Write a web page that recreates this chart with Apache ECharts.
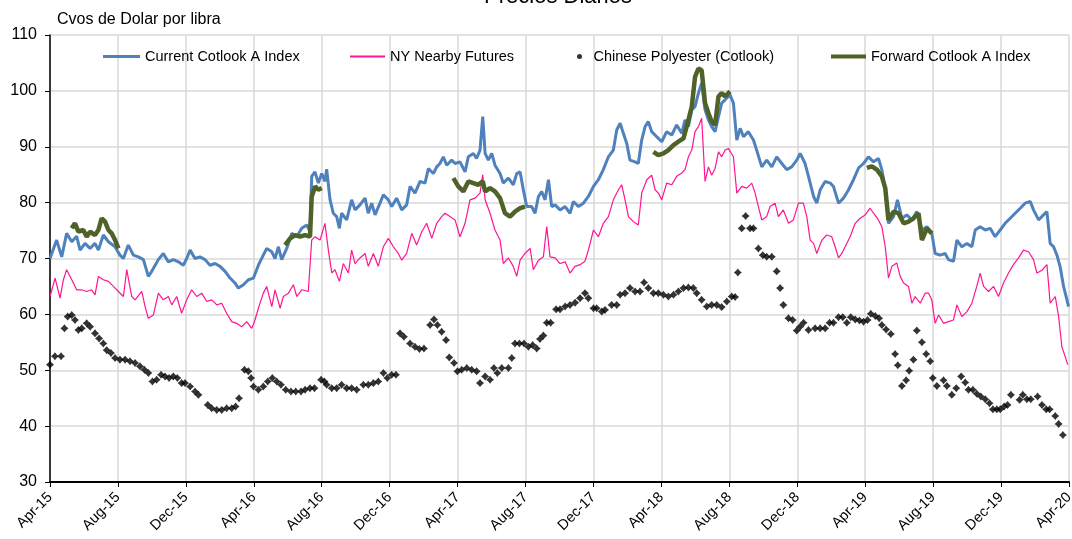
<!DOCTYPE html>
<html><head><meta charset="utf-8">
<script src="https://cdn.jsdelivr.net/npm/echarts@6/dist/echarts.min.js"></script>
<style>html,body{margin:0;padding:0;background:#fff}#c{width:1072px;height:539px}</style>
</head><body><div id="c"></div>
<script>
// x = months since Apr-15
const monthLabels = ['Apr-15','Aug-15','Dec-15','Apr-16','Aug-16','Dec-16','Apr-17','Aug-17','Dec-17','Apr-18','Aug-18','Dec-18','Apr-19','Aug-19','Dec-19','Apr-20'];
const seriesNames = ['Current Cotlook A Index','NY Nearby Futures','Chinese Polyester (Cotlook)','Forward Cotlook A Index'];

const currentIndex = [[0.0,70.0],[0.1,70.3],[0.39,73.3],[0.69,70.3],[0.98,74.5],[1.28,73],[1.57,74],[1.77,71.5],[2.06,72.7],[2.36,71.8],[2.65,72.7],[2.85,71.5],[3.14,74.2],[3.44,73],[3.83,72.1],[4.12,70.6],[4.32,70],[4.61,72.4],[4.91,70.6],[5.2,70.3],[5.5,69.8],[5.79,66.8],[5.99,67.7],[6.38,69.8],[6.67,70.9],[6.97,69.4],[7.26,69.8],[7.56,69.4],[7.85,68.8],[8.05,70],[8.25,71.5],[8.54,70],[8.83,70.3],[9.13,69.8],[9.42,68.8],[9.72,69.1],[10.01,68.6],[10.31,67.7],[10.6,66.5],[10.9,65.6],[11.09,64.7],[11.39,65.3],[11.68,66.2],[11.98,66.5],[12.27,68.8],[12.56,70.6],[12.76,71.8],[13.06,71.2],[13.25,70],[13.45,72.1],[13.64,69.8],[13.94,71.8],[14.23,74.5],[14.53,73.9],[14.82,75.4],[15.12,76],[15.31,74.8],[15.41,84.7],[15.6,85.5],[15.8,83.5],[16.0,85.2],[16.19,83.8],[16.29,86],[16.49,80.5],[16.68,78.1],[16.88,77.5],[17.04,75.4],[17.17,78.1],[17.47,76.9],[17.76,80.5],[17.96,78.7],[18.25,79.6],[18.55,80.8],[18.74,78.1],[18.94,79.9],[19.14,77.8],[19.43,79.9],[19.63,81.4],[19.92,80.5],[20.12,79.3],[20.41,80.8],[20.71,78.7],[21.0,79.6],[21.2,82.9],[21.49,81.7],[21.79,83.8],[22.08,83.5],[22.28,86.1],[22.57,85.2],[22.77,86.4],[22.96,87],[23.16,88.2],[23.36,86.7],[23.65,87.6],[23.85,87],[24.14,87.3],[24.44,85.5],[24.63,88.2],[24.93,88.8],[25.12,87.9],[25.32,89.4],[25.48,95.4],[25.62,88.8],[25.81,87.6],[26.01,88.8],[26.2,86.7],[26.5,85.2],[26.69,83.5],[26.99,84.4],[27.28,83.2],[27.48,85.2],[27.68,85.5],[27.87,82.3],[28.07,79.3],[28.36,79.3],[28.56,78.1],[28.76,81.1],[28.95,82],[29.15,80.5],[29.35,84.1],[29.54,79.3],[29.74,79.6],[30.03,78.7],[30.33,79.3],[30.62,78.1],[30.82,80.2],[31.11,79.3],[31.41,79.9],[31.7,81.1],[32.0,82.9],[32.29,84.1],[32.58,85.9],[32.88,88.2],[33.17,89.4],[33.37,93],[33.57,94.2],[33.76,92.4],[33.96,90.6],[34.15,87.6],[34.45,87.3],[34.64,87],[34.84,91.2],[35.04,93.6],[35.23,94.5],[35.43,92.7],[35.72,91.8],[36.02,90.9],[36.31,92.7],[36.61,92.1],[36.9,93.9],[37.2,92.4],[37.39,94.8],[37.59,93.6],[37.79,96.6],[37.98,97.2],[38.18,99.6],[38.37,101.4],[38.57,96.6],[38.77,94.8],[38.96,93.6],[39.16,92.7],[39.36,95.4],[39.55,97.8],[39.75,98.4],[40.04,99.3],[40.24,97.8],[40.44,91.2],[40.64,93.3],[40.83,91.8],[41.12,92.7],[41.42,91.2],[41.61,89.4],[41.91,86.4],[42.2,87.6],[42.5,86.4],[42.79,88.2],[43.09,87],[43.38,85.9],[43.67,86.4],[43.97,87.6],[44.17,88.8],[44.46,87],[44.66,84.7],[44.96,81.1],[45.15,79.9],[45.35,82.3],[45.64,83.8],[45.94,83.5],[46.13,82.9],[46.43,79.9],[46.72,80.8],[47.02,82.3],[47.31,84.1],[47.61,86.2],[47.9,87],[48.19,88.2],[48.49,87.3],[48.78,87.9],[48.98,85.9],[49.18,82.3],[49.37,76.3],[49.67,77.5],[49.9,80.5],[50.16,77.2],[50.45,77.8],[50.75,76.9],[51.04,78.4],[51.34,75.1],[51.63,75.7],[51.92,74.5],[52.12,70.9],[52.42,70.6],[52.71,70.9],[52.9,69.8],[53.2,69.5],[53.4,73.3],[53.69,72.1],[53.99,72.7],[54.28,72.1],[54.48,75.1],[54.77,75.7],[55.07,75.1],[55.36,75.4],[55.65,73.9],[55.95,75.1],[56.24,76.3],[56.54,77.2],[56.83,78.1],[57.13,79],[57.42,79.9],[57.72,80.2],[57.91,78.7],[58.21,76.9],[58.5,77.8],[58.7,78.4],[58.89,72.7],[59.09,72.1],[59.29,70.6],[59.48,68.5],[59.68,65],[59.88,62.6],[59.97,61.4]];

const nyFutures = [[0.0,63.2],[0.3,66.5],[0.59,62.9],[0.79,66.2],[0.98,68],[1.28,66.2],[1.57,64.4],[1.86,64.4],[2.16,64.1],[2.45,64.4],[2.65,63.5],[2.85,66.8],[3.14,66.2],[3.44,65.9],[3.73,65],[4.03,64.1],[4.32,63.2],[4.52,68],[4.81,63.2],[5.01,62.6],[5.4,64.1],[5.6,61.4],[5.79,59.3],[6.09,59.9],[6.38,63.8],[6.67,62.6],[6.97,63.2],[7.17,61.7],[7.46,63.2],[7.75,60.2],[8.05,62.6],[8.34,64.4],[8.64,63.2],[8.93,63.8],[9.23,62.3],[9.52,62.6],[9.82,61.7],[10.11,62],[10.4,60.2],[10.7,58.7],[10.99,58.4],[11.29,57.8],[11.58,58.7],[11.88,57.5],[12.07,59],[12.27,61.1],[12.56,63.8],[12.76,65],[13.06,61.4],[13.25,64.4],[13.55,61.1],[13.74,63.2],[14.04,63.8],[14.33,65.3],[14.53,63.2],[14.82,64.4],[15.21,64.1],[15.41,73.3],[15.6,73.9],[15.9,73.3],[16.19,76.3],[16.39,71.5],[16.59,67.4],[16.78,68],[17.04,65.9],[17.27,69.1],[17.57,67.4],[17.76,71.5],[17.96,69.1],[18.25,70.1],[18.55,70.9],[18.74,68.6],[19.04,70.9],[19.33,68.6],[19.63,72.1],[19.92,73.6],[20.22,72.1],[20.51,70.9],[20.71,69.7],[21.0,70.9],[21.3,74.5],[21.59,72.4],[21.89,74.8],[22.18,76.3],[22.48,73.6],[22.77,76.3],[23.06,77.5],[23.26,78.1],[23.55,77.5],[23.85,76.9],[24.14,73.9],[24.44,76.3],[24.73,80.5],[25.03,80.8],[25.32,81.7],[25.48,85],[25.62,80.5],[25.91,78.1],[26.2,75.1],[26.5,73.3],[26.69,69.1],[26.99,70.1],[27.28,68.6],[27.48,66.8],[27.68,69.7],[27.97,70.9],[28.27,71.8],[28.46,68],[28.76,69.7],[29.05,70.3],[29.25,75.7],[29.44,70.3],[29.74,70.1],[30.03,69.1],[30.33,69.4],[30.62,67.4],[30.91,68.6],[31.21,68.9],[31.5,69.5],[31.7,71.5],[32.0,75.1],[32.29,73.9],[32.58,76.3],[32.88,77.5],[33.17,80.5],[33.47,82.3],[33.66,83.2],[33.86,80.5],[34.06,77.5],[34.35,76.6],[34.64,76],[34.84,81.7],[35.14,84.1],[35.43,84.9],[35.63,82.3],[35.82,81.7],[36.02,80.5],[36.31,83.5],[36.61,83.2],[36.9,84.7],[37.2,85.3],[37.39,85.9],[37.59,88.2],[37.79,89.4],[37.98,92.7],[38.18,93.6],[38.37,95.1],[38.57,83.8],[38.77,86.4],[38.96,84.9],[39.16,86.1],[39.36,89.1],[39.55,88.2],[39.75,89.4],[39.94,89.7],[40.24,88.2],[40.44,81.7],[40.73,82.9],[41.02,82.6],[41.32,83.5],[41.52,81.7],[41.71,79.3],[41.91,76.9],[42.2,77.5],[42.4,79.3],[42.69,79.9],[42.89,77.5],[43.18,78.7],[43.48,76.3],[43.77,76.9],[44.07,79.9],[44.36,79.9],[44.56,77.5],[44.76,73.3],[44.96,72.7],[45.15,70.9],[45.45,73.3],[45.74,74.2],[46.03,73.9],[46.23,72.1],[46.43,70.1],[46.62,70.9],[46.82,72.1],[47.11,73.9],[47.41,76.3],[47.7,77.2],[48.0,77.8],[48.29,79],[48.49,78.1],[48.72,77.2],[48.98,75.7],[49.18,72.1],[49.37,66.5],[49.57,68.6],[49.86,69.2],[50.06,66.8],[50.26,65.6],[50.55,65],[50.75,62],[50.94,63.2],[51.24,62],[51.53,63.8],[51.73,63.8],[51.92,62.6],[52.12,58.4],[52.32,59.9],[52.61,58.4],[52.91,58.7],[53.2,59],[53.4,61.7],[53.69,59.6],[53.99,60.5],[54.28,62],[54.57,65],[54.77,67.4],[54.97,65],[55.26,64.1],[55.56,65],[55.85,63.2],[56.14,65.6],[56.44,67.4],[56.73,68.9],[57.03,70.1],[57.32,71.5],[57.62,71.2],[57.91,69.8],[58.11,67.4],[58.41,67.9],[58.7,68.9],[58.89,62],[59.19,63.2],[59.39,59.6],[59.58,54.2],[59.78,52.4],[59.92,51]];

const chinesePolyester = [[0.0,51],[0.29,52.5],[0.65,52.5],[0.85,57.5],[1.04,59.6],[1.28,59.9],[1.47,59],[1.67,57.2],[1.87,57.5],[2.16,58.4],[2.36,57.8],[2.65,56.6],[2.89,55.7],[3.14,54.8],[3.34,53.6],[3.59,53.1],[3.83,52.2],[4.12,51.9],[4.42,51.9],[4.71,51.6],[5.01,51.3],[5.3,50.7],[5.56,50.1],[5.79,49.5],[6.03,48],[6.28,48.3],[6.54,49.2],[6.77,48.9],[7.01,48.6],[7.26,48.9],[7.5,48.6],[7.75,47.7],[7.95,47.7],[8.25,47.1],[8.54,46.2],[8.74,45.6],[9.29,43.8],[9.52,43.2],[9.82,42.9],[10.11,42.9],[10.4,43.2],[10.7,43.2],[10.93,43.5],[11.13,45],[11.45,50.1],[11.68,49.8],[11.84,48.6],[11.98,47.1],[12.27,46.5],[12.56,47.1],[12.82,48],[13.09,48.6],[13.35,48],[13.6,47.4],[13.88,46.5],[14.19,46.2],[14.47,46.2],[14.78,46.2],[15.02,46.5],[15.31,46.8],[15.57,46.8],[15.96,48.3],[16.16,48],[16.29,47.4],[16.59,46.8],[16.88,46.8],[17.17,47.4],[17.47,46.8],[17.76,46.8],[18.06,46.5],[18.45,47.4],[18.74,47.4],[19.04,47.7],[19.33,48],[19.63,49.5],[19.86,48.6],[20.12,49.2],[20.37,49.2],[20.61,56.6],[20.84,56],[21.2,54.8],[21.49,54.2],[21.75,53.8],[22.02,53.9],[22.38,58.1],[22.61,59.1],[22.81,58.1],[23.06,56.9],[23.32,55.4],[23.51,52.3],[23.79,51.3],[23.99,49.8],[24.24,50.1],[24.54,50.4],[24.83,50.1],[25.12,49.8],[25.32,47.7],[25.62,48.9],[25.91,48.3],[26.14,50.4],[26.34,49.5],[26.6,50.4],[26.99,50.4],[27.19,52.2],[27.38,54.8],[27.64,54.8],[27.91,54.8],[28.17,54.2],[28.42,54.5],[28.66,53.9],[28.85,55.6],[29.05,56.2],[29.25,58.5],[29.48,58.5],[29.8,60.9],[30.03,60.9],[30.33,61.4],[30.62,61.7],[30.92,62.1],[31.21,62.9],[31.5,63.8],[31.7,62.9],[32.0,61.1],[32.19,61.1],[32.49,60.5],[32.68,60.8],[33.07,61.7],[33.37,61.7],[33.57,63.5],[33.86,63.8],[34.15,64.7],[34.45,64.1],[34.74,64.1],[34.98,65.7],[35.23,64.7],[35.53,63.8],[35.82,63.8],[36.12,63.5],[36.41,63.2],[36.71,63.5],[37.0,64.1],[37.3,64.7],[37.59,64.8],[37.88,64.7],[38.08,63.8],[38.37,62.6],[38.67,61.4],[38.96,61.7],[39.26,61.7],[39.55,61.3],[39.85,62.3],[40.14,63.2],[40.34,63.1],[40.5,67.5],[40.73,75.4],[40.96,77.6],[41.22,75.4],[41.42,75.4],[41.71,71.8],[41.97,70.6],[42.2,70.3],[42.5,70.3],[42.79,67.7],[42.99,64.7],[43.18,61.7],[43.48,59.3],[43.73,59],[43.97,57.1],[44.17,57.8],[44.37,58.5],[44.66,57.2],[45.05,57.5],[45.35,57.5],[45.64,57.5],[45.9,58.5],[46.13,58.5],[46.43,59.5],[46.68,59.5],[46.92,58.5],[47.15,59.5],[47.41,59.1],[47.66,58.9],[47.9,58.7],[48.14,59],[48.33,60.1],[48.59,59.7],[48.82,59.3],[48.98,58.1],[49.23,57.3],[49.51,56.5],[49.76,52.9],[49.92,50.9],[50.16,47.2],[50.41,48.2],[50.59,49.9],[50.84,51.9],[51.04,57.1],[51.34,55],[51.59,52.9],[51.83,51.6],[51.98,48.6],[52.22,47.2],[52.61,48.2],[52.81,47.2],[53.1,45.6],[53.36,46.8],[53.65,48.9],[53.89,47.8],[54.08,46.5],[54.34,46.5],[54.57,45.8],[54.81,45.3],[55.07,44.8],[55.32,44.1],[55.52,43],[55.75,43],[55.95,43],[56.18,43.5],[56.38,43.8],[56.58,45.6],[57.09,44.7],[57.28,45.6],[57.52,44.8],[57.75,44.8],[58.15,45.3],[58.41,43.8],[58.66,43],[58.86,43],[59.19,41.8],[59.39,40.4],[59.64,38.4]];

const forwardIndex = [[1.28,75.4],[1.47,76.3],[1.67,74.8],[1.96,75.1],[2.16,73.9],[2.36,74.8],[2.65,74.2],[2.85,75.1],[3.04,77.2],[3.24,76.6],[3.44,75.1],[3.63,74.5],[3.83,73.3],[4.03,71.8],[4.5,null],
[13.84,72.4],[14.14,73.6],[14.43,74.2],[14.72,73.9],[15.02,74.2],[15.31,73.9],[15.41,81.1],[15.61,82.9],[15.8,82.3],[16.0,82.6],[17,null],
[23.75,84.4],[24.04,82.9],[24.34,82],[24.63,83.8],[24.93,83.5],[25.22,83.2],[25.48,83.8],[25.62,82],[25.91,82.6],[26.2,82],[26.5,80.8],[26.79,78.1],[27.09,77.5],[27.38,78.4],[27.68,79],[27.97,79.3],[30,null],
[35.53,89.1],[35.82,88.5],[36.12,88.8],[36.41,89.4],[36.71,90.3],[37.0,90.9],[37.3,91.5],[37.59,94.8],[37.79,97.2],[37.98,102.5],[38.18,104],[38.37,103.7],[38.57,97.8],[38.77,96],[38.96,94.5],[39.16,93.9],[39.36,99],[39.55,99.6],[39.75,99],[40.04,99.9],[44,null],
[48.1,86.2],[48.39,86.5],[48.69,85.9],[48.98,84.7],[49.18,82.6],[49.37,76.9],[49.67,78.4],[49.96,78.1],[50.26,76.3],[50.55,76.6],[50.85,77.2],[51.14,78.1],[51.34,73.3],[51.63,75.4],[51.92,74.5]];

const FONT = 'Liberation Sans, Arial, sans-serif';
const colors = ['#4f81bd', '#ff1493', '#000000', '#4f6228'];
const star = 'path://M0,-10 L4.5,-4.5 L10,0 L4.5,4.5 L0,10 L-4.5,4.5 L-10,0 L-4.5,-4.5 Z';

function legendAt(name, left, w, h, icon) {
  return {
    data: [{ name: name, icon: icon }],
    left: left, top: 49, itemWidth: w, itemHeight: h, padding: 0,
    textStyle: { fontFamily: FONT, fontSize: 14.5, color: '#000' },
    selectedMode: false
  };
}

const chart = echarts.init(document.getElementById('c'), null, { renderer: 'canvas' });
chart.setOption({
  animation: false,
  backgroundColor: '#fff',
  title: {
    text: 'Precios Diarios', left: 553, textAlign: 'center', top: -19,
    textStyle: { fontFamily: FONT, fontSize: 22, fontWeight: 'normal', color: '#000' }
  },
  legend: [
    legendAt(seriesNames[0], 103, 37, 3, 'rect'),
    legendAt(seriesNames[1], 350, 35, 2, 'rect'),
    legendAt(seriesNames[2], 577, 18, 5, 'circle'),
    legendAt(seriesNames[3], 831, 35, 4, 'rect')
  ],
  grid: { left: 50, right: 3, top: 35, bottom: 57, outerBoundsMode: 'none' },
  xAxis: {
    type: 'value', min: 0, max: 60, interval: 4,
    axisLine: { show: true, onZero: false, lineStyle: { color: '#000', width: 2 } },
    axisTick: { show: true, length: 5, lineStyle: { color: '#000' } },
    splitLine: { show: true, lineStyle: { color: '#d9d9d9', width: 1.5 } },
    axisLabel: {
      rotate: 45, fontFamily: FONT, fontSize: 14.5, color: '#000', margin: 13,
      formatter: function (v) { return monthLabels[Math.round(v / 4)] || ''; }
    }
  },
  yAxis: {
    type: 'value', min: 30, max: 110, interval: 10,
    name: 'Cvos de Dolar por libra', nameLocation: 'end', nameGap: 7,
    nameTextStyle: { fontFamily: FONT, fontSize: 16, color: '#000', align: 'left', padding: [0, 0, 0, 7] },
    axisLine: { show: true, lineStyle: { color: '#000', width: 1.5 } },
    axisTick: { show: true, length: 5, lineStyle: { color: '#000' } },
    splitLine: { show: true, lineStyle: { color: '#d9d9d9', width: 1.5 } },
    axisLabel: { fontFamily: FONT, fontSize: 16, color: '#000', margin: 13 }
  },
  series: [
    { name: seriesNames[0], type: 'line', data: currentIndex, showSymbol: false, symbol: 'none',
      lineStyle: { color: colors[0], width: 3 }, itemStyle: { color: colors[0] }, z: 3 },
    { name: seriesNames[1], type: 'line', data: nyFutures, showSymbol: false, symbol: 'none',
      lineStyle: { color: colors[1], width: 1.2 }, itemStyle: { color: colors[1] }, z: 2 },
    { name: seriesNames[2], type: 'scatter', data: chinesePolyester, symbol: star, symbolSize: 8,
      itemStyle: { color: colors[2] }, z: 4 },
    { name: seriesNames[3], type: 'line', data: forwardIndex, showSymbol: false, symbol: 'none', connectNulls: false,
      lineStyle: { color: colors[3], width: 4.5 }, itemStyle: { color: colors[3] }, z: 5 }
  ]
});
</script></body></html>
